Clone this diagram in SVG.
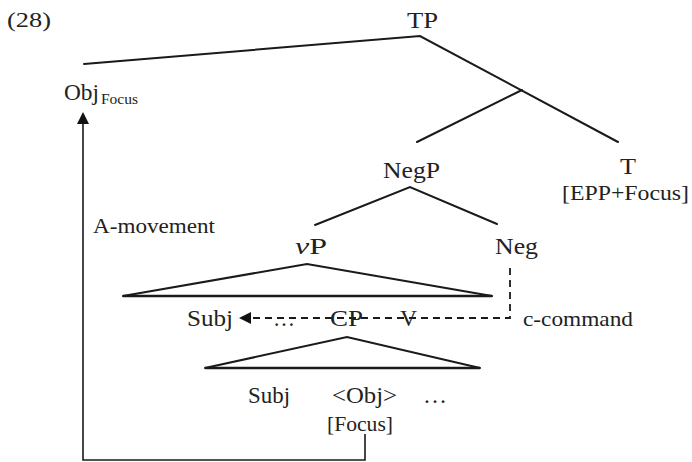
<svg xmlns="http://www.w3.org/2000/svg" width="692" height="462" viewBox="0 0 692 462">
  <style>
    text { font-family: "Liberation Serif", "Times New Roman", serif; font-size: 24px; fill: #222; }
    .sub { font-size: 14px; }
    .sm { font-size: 22px; }
    .br { fill: none; stroke: #1a1a1a; stroke-width: 2; stroke-linecap: round; }
    .base { fill: none; stroke: #1a1a1a; stroke-width: 2.6; }
    .mv { fill: none; stroke: #1a1a1a; stroke-width: 1.6; }
    .dash { fill: none; stroke: #1a1a1a; stroke-width: 1.8; stroke-dasharray: 7 5; }
  </style>
  <defs>
    <marker id="ah" markerUnits="userSpaceOnUse" markerWidth="20" markerHeight="20" refX="0" refY="0" orient="auto" overflow="visible">
      <path d="M0,-6 L12,0 L0,6 z" fill="#111"/>
    </marker>
  </defs>

  <text id="ex" x="7" y="27" class="sm" textLength="44" lengthAdjust="spacingAndGlyphs">(28)</text>

  <g id="connectors">
    <path class="br" d="M84,64 L420,36 L618,142"/>
    <path class="br" d="M522,90 L417,142"/>
    <path class="br" d="M315,225 L410,187 L497,224"/>
    <path class="br" d="M123,296 L307,264 L492,296"/>
    <path class="base" d="M123,296 H492"/>
    <path class="br" d="M205,368 L347,337 L480,368"/>
    <path class="base" d="M205,368 H480"/>
    <path class="dash" d="M510,268 V318 H251" marker-end="url(#ah)"/>
    <path class="mv" d="M365,434 V460 H83 V124" marker-end="url(#ah)"/>
  </g>

  <g id="TP"><text x="407" y="28" textLength="31" lengthAdjust="spacingAndGlyphs">TP</text></g>
  <g id="ObjFocus"><text x="64" y="100" textLength="35" lengthAdjust="spacingAndGlyphs">Obj</text><text class="sub" x="101" y="104" textLength="37" lengthAdjust="spacingAndGlyphs">Focus</text></g>
  <g id="NegP"><text x="383" y="178" textLength="57" lengthAdjust="spacingAndGlyphs">NegP</text></g>
  <g id="T"><text x="620" y="174" textLength="16" lengthAdjust="spacingAndGlyphs">T</text><text class="sm" x="562" y="200" textLength="127" lengthAdjust="spacingAndGlyphs">[EPP+Focus]</text></g>
  <g id="amove"><text class="sm" x="93" y="233" textLength="122" lengthAdjust="spacingAndGlyphs">A-movement</text></g>
  <g id="vP"><text x="295" y="254" textLength="32" lengthAdjust="spacingAndGlyphs"><tspan font-style="italic">v</tspan>P</text></g>
  <g id="Neg"><text x="495" y="254" textLength="43" lengthAdjust="spacingAndGlyphs">Neg</text></g>
  <g id="row1">
    <text x="187" y="326" textLength="46" lengthAdjust="spacingAndGlyphs">Subj</text>
    <text x="273" y="326" textLength="22" lengthAdjust="spacingAndGlyphs">…</text>
    <text x="330" y="326" textLength="33" lengthAdjust="spacingAndGlyphs">CP</text>
    <text x="400" y="326" textLength="17" lengthAdjust="spacingAndGlyphs">V</text>
  </g>
  <g id="ccommand"><text class="sm" x="523" y="326" textLength="110" lengthAdjust="spacingAndGlyphs">c-command</text></g>
  <g id="row2">
    <text x="248" y="403" textLength="42" lengthAdjust="spacingAndGlyphs">Subj</text>
    <text x="332" y="403" textLength="65" lengthAdjust="spacingAndGlyphs">&lt;Obj&gt;</text>
    <text x="423" y="403" textLength="24" lengthAdjust="spacingAndGlyphs">…</text>
    <text class="sm" x="327" y="431" textLength="66" lengthAdjust="spacingAndGlyphs">[Focus]</text>
  </g>
</svg>
